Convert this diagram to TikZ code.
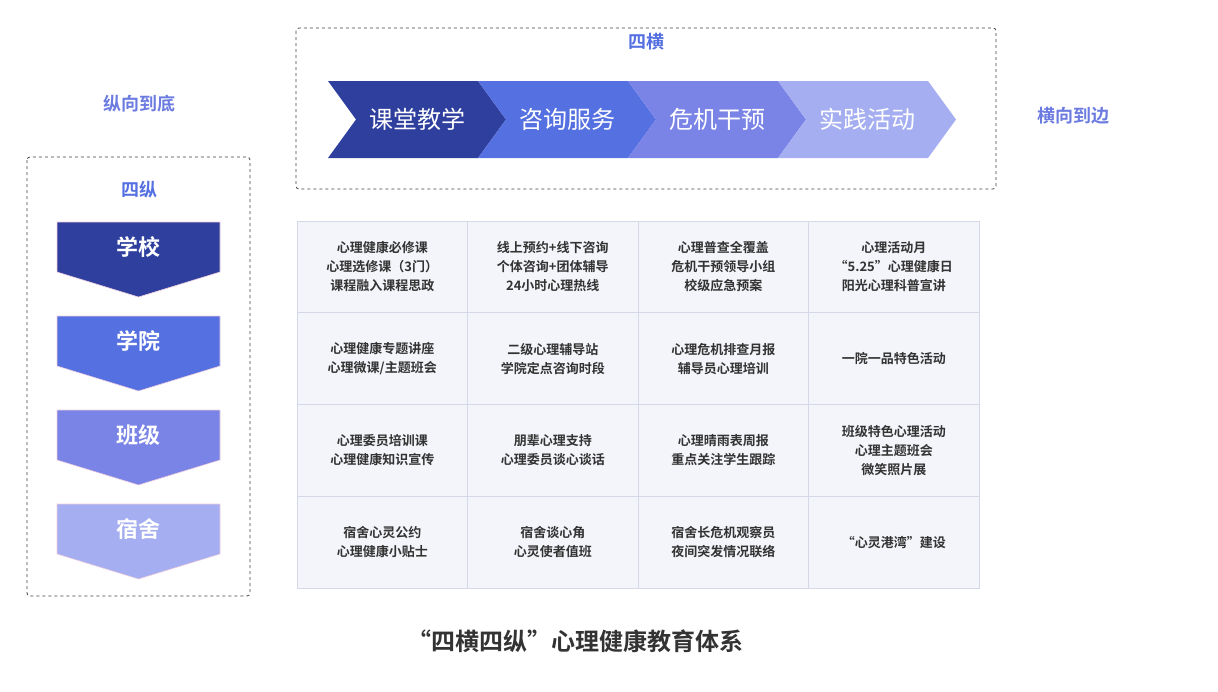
\documentclass[tikz,border=0pt]{standalone}
\usepackage{fontspec}
\setmainfont{Noto Sans CJK SC}[BoldFont={* Bold}]
\usetikzlibrary{positioning}
\definecolor{cA}{HTML}{2F3F9E}
\definecolor{cB}{HTML}{5570E0}
\definecolor{cC}{HTML}{7A83E6}
\definecolor{cD}{HTML}{A5AEF0}
\definecolor{hint}{HTML}{6B7BE0}
\definecolor{cellbg}{HTML}{F4F5FA}
\definecolor{cellline}{HTML}{D5D8E8}
\definecolor{txt}{HTML}{333333}
\tikzset{
  dashbox/.style={draw=black!75, dashed, rounded corners=3pt, line width=0.8pt},
  hint/.style={text=hint, font=\bfseries\fontsize{18}{20}\selectfont},
  boxtitle/.style={text=cB, font=\bfseries\fontsize{18}{20}\selectfont},
  cell/.style={draw=cellline, fill=cellbg, line width=0.8pt},
  celltext/.style={text=txt, align=center, font=\bfseries\fontsize{13}{19}\selectfont}
}
\begin{document}
\begin{tikzpicture}[x=1pt, y=-1pt]
  \useasboundingbox (0,0) rectangle (1218,691);

  % hints and frames
  \node[hint] (vhint) at (139,104) {纵向到底};
  \node[hint] (hhint) at (1073,116) {横向到边};
  \draw[dashbox] (27,157) rectangle (250,596);
  \draw[dashbox] (296,28) rectangle (996,189);
  \node[boxtitle] (vtitle) at (139,190) {四纵};
  \node[boxtitle] (htitle) at (646,42) {四横};

  % horizontal chevrons
  \foreach \i/\c/\t in {0/cA/课堂教学, 1/cB/咨询服务, 2/cC/危机干预, 3/cD/实践活动} {
    \pgfmathsetmacro{\xa}{328+150*\i}
    \fill[\c] (\xa,81) -- ++(150,0) -- ++(28,38.5) -- ++(-28,38.5) -- ++(-150,0) -- ++(28,-38.5) -- cycle;
    \node[text=white, font=\fontsize{24}{26}\selectfont] (h\i) at (\xa+89,119.5) {\t};
  }

  % vertical chevrons
  \foreach \i/\c/\t in {0/cA/学校, 1/cB/学院, 2/cC/班级, 3/cD/宿舍} {
    \pgfmathsetmacro{\ya}{222+94*\i}
    \filldraw[fill=\c, draw=pink!70!violet!40, line width=0.6pt] (57,\ya) -- (220,\ya) -- (220,\ya+50) -- (138.5,\ya+75) -- (57,\ya+50) -- cycle;
    \node[text=white, font=\bfseries\fontsize{22}{24}\selectfont] (v\i) at (138.5,\ya+25) {\t};
  }

  % grid
  \foreach \c in {0,...,3}
    \foreach \r in {0,...,3}
      \draw[cell] (297+170.5*\c,221+91.75*\r) rectangle ++(170.5,91.75);

  \foreach \c/\r/\t in {
    0/0/{心理健康必修课\\心理选修课（3门）\\课程融入课程思政},
    1/0/{线上预约+线下咨询\\个体咨询+团体辅导\\24小时心理热线},
    2/0/{心理普查全覆盖\\危机干预领导小组\\校级应急预案},
    3/0/{心理活动月\\“5.25”心理健康日\\阳光心理科普宣讲},
    0/1/{心理健康专题讲座\\心理微课/主题班会},
    1/1/{二级心理辅导站\\学院定点咨询时段},
    2/1/{心理危机排查月报\\辅导员心理培训},
    3/1/{一院一品特色活动},
    0/2/{心理委员培训课\\心理健康知识宣传},
    1/2/{朋辈心理支持\\心理委员谈心谈话},
    2/2/{心理晴雨表周报\\重点关注学生跟踪},
    3/2/{班级特色心理活动\\心理主题班会\\微笑照片展},
    0/3/{宿舍心灵公约\\心理健康小贴士},
    1/3/{宿舍谈心角\\心灵使者值班},
    2/3/{宿舍长危机观察员\\夜间突发情况联络},
    3/3/{“心灵港湾”建设}}
    \node[celltext] (t\c\r) at (382.25+170.5*\c,266.9+91.75*\r) {\t};

  % caption
  \node[text=txt, font=\bfseries\fontsize{24}{26}\selectfont] (caption) at (575,641) {“四横四纵”心理健康教育体系};
\end{tikzpicture}
\end{document}
